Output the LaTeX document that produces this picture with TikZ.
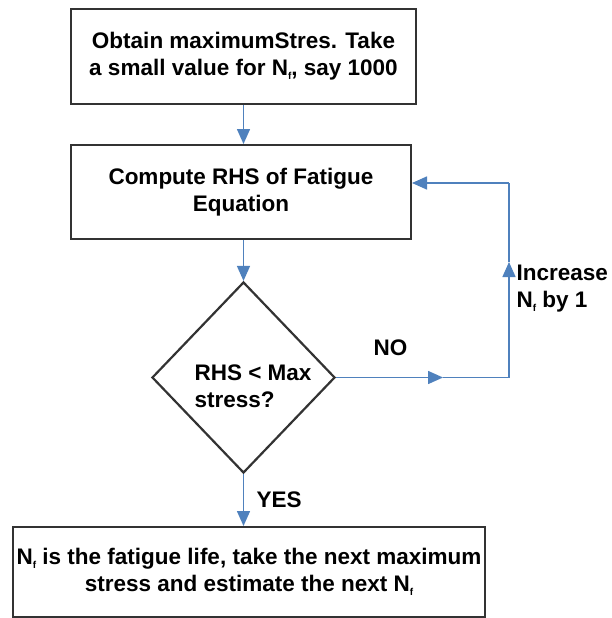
\documentclass[tikz,border=0pt]{standalone}
\usepackage{fontspec}
\setmainfont{Liberation Sans}
\usetikzlibrary{arrows.meta,shapes.geometric}
\definecolor{flowblue}{HTML}{4F81BD}
\definecolor{boxline}{HTML}{333333}
\newcommand{\Nf}{N\raisebox{-4pt}{\fontsize{10}{10}\selectfont f}}
\begin{document}
\begin{tikzpicture}[x=1pt,y=-1pt,
  every node/.style={font=\bfseries\fontsize{22.5}{27}\selectfont},
  procbox/.style={draw=boxline,line width=2pt,rectangle,inner sep=0pt,align=center},
  flow/.style={draw=flowblue,line width=1.5pt},
  arr/.style={flow,-{Triangle[length=15pt,width=13pt]}},
]
\useasboundingbox (0,0) rectangle (612,618);
\node[procbox,minimum width=345pt,minimum height=95pt] (b1) at (243.5,56.5)
  {Obtain maximumStres. Take\\a small value for \Nf, say 1000};
\node[procbox,minimum width=340pt,minimum height=94pt] (b2) at (241,192)
  {Compute RHS of Fatigue\\Equation};
\node[draw=boxline,line width=2.2pt,diamond,minimum width=183pt,minimum height=191pt,inner sep=0pt] (d) at (243.5,377.5) {};
\node[align=left,anchor=center] (dt) at (253,386) {RHS < Max\\stress?};
\node[procbox,minimum width=472pt,minimum height=90pt] (b3) at (249,572)
  {\Nf\ is the fatigue life, take the next maximum\\stress and estimate the next \Nf};
\coordinate (m1) at (443,377.5);
\coordinate (c1) at (509,377.5);
\coordinate (m2) at (509,262);
\coordinate (c2) at (509,183);
\draw[arr] (b1.south -| d.north) -- (b2.north -| d.north);
\draw[arr] (b2.south -| d.north) -- (d.north);
\draw[arr] (d.east) -- (m1);
\draw[flow] (m1) -- (c1);
\draw[arr] (c1) -- (m2);
\draw[flow] (m2) -- (c2);
\draw[arr] (c2) -- (c2 -| b2.east);
\draw[arr] (d.south) -- (d.south |- b3.north);
\node[anchor=west] (no) at (370,348) {NO};
\node[anchor=west] (yes) at (253,500) {YES};
\node[anchor=west,align=left] (inc) at (513,289) {Increase\\\Nf\ by 1};
\end{tikzpicture}
\end{document}
